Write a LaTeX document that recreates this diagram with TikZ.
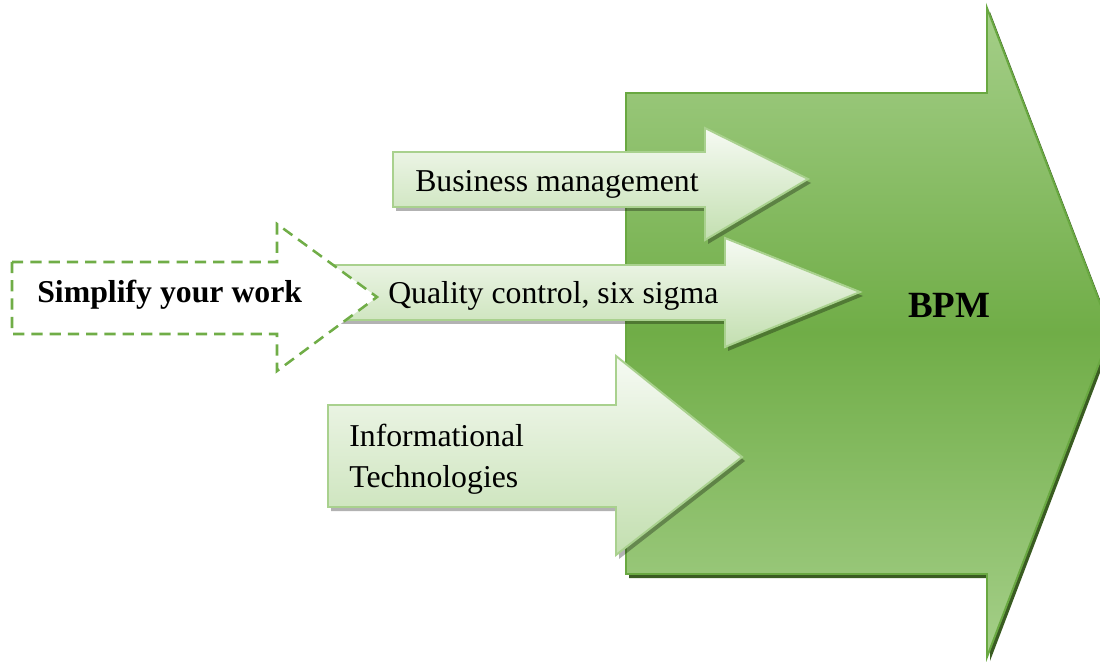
\documentclass[tikz,border=0pt]{standalone}
\usepackage{fontspec}
\setmainfont{Liberation Serif}
\definecolor{bpmgreen}{HTML}{70AD47}
\definecolor{bpmlight}{HTML}{A5CF89}
\definecolor{bpmedge}{HTML}{69A841}
\definecolor{bpmshadow}{HTML}{3A5C22}
\definecolor{tagtop}{HTML}{F6FAF3}
\definecolor{tagbottom}{HTML}{C3DFB0}
\definecolor{tagedge}{HTML}{A9D18E}
\begin{document}
\begin{tikzpicture}[x = 0.025cm, y = -0.025cm,
    bigarrow/.style = {draw = bpmedge, line width = 1.4,
      top color = bpmlight, bottom color = bpmlight, middle color = bpmgreen},
    tagarrow/.style = {draw = tagedge, line width = 1.4,
      top color = tagtop, bottom color = tagbottom},
    tagshadow/.style = {fill = black, opacity = 0.3},
    tagtext/.style = {anchor = base west, inner sep = 0,
      font = \fontsize{22.6}{28.5}\selectfont}]
  \useasboundingbox (0,0) rectangle (1100,662);
  % big BPM arrow
  \fill[bpmshadow, shift = {(3,4)}]
    (626,93)--(987,93)--(987,8)--(1111,332)--(987,657)--(987,574)--(626,574)--cycle;
  \draw[bigarrow]
    (626,93)--(987,93)--(987,8)--(1111,332)--(987,657)--(987,574)--(626,574)--cycle;
  % business management
  \fill[tagshadow, shift = {(3,4)}]
    (393,152)--(705,152)--(705,128)--(808,179)--(705,240)--(705,207)--(393,207)--cycle;
  \draw[tagarrow]
    (393,152)--(705,152)--(705,128)--(808,179)--(705,240)--(705,207)--(393,207)--cycle;
  % quality control
  \fill[tagshadow, shift = {(3,4)}]
    (320,265)--(725,265)--(725,238)--(860,292)--(725,347)--(725,320)--(320,320)--cycle;
  \draw[tagarrow]
    (320,265)--(725,265)--(725,238)--(860,292)--(725,347)--(725,320)--(320,320)--cycle;
  % informational technologies
  \fill[tagshadow, shift = {(3,4)}]
    (328,405)--(616,405)--(616,356)--(742,457)--(616,555)--(616,507)--(328,507)--cycle;
  \draw[tagarrow]
    (328,405)--(616,405)--(616,356)--(742,457)--(616,555)--(616,507)--(328,507)--cycle;
  % simplify (dashed)
  \draw[bpmgreen, fill = white, line width = 1.8, dash pattern = on 8pt off 5pt]
    (12,262)--(277,262)--(277,224)--(377,297)--(277,371)--(277,334)--(12,334)--cycle;
  \node[tagtext] (bm) at (415,192) {Business management};
  \node[tagtext] (qc) at (388,304) {Quality control, six sigma};
  \node[tagtext] (it1) at (349,447) {Informational};
  \node[tagtext] (it2) at (349,487) {Technologies};
  \node[tagtext, font = \fontsize{22.6}{28.5}\selectfont\bfseries] (sw) at (37,303) {Simplify your work};
  \node[tagtext, font = \fontsize{26.3}{32}\selectfont\bfseries] (bpm) at (908,318) {BPM};
\end{tikzpicture}
\end{document}
